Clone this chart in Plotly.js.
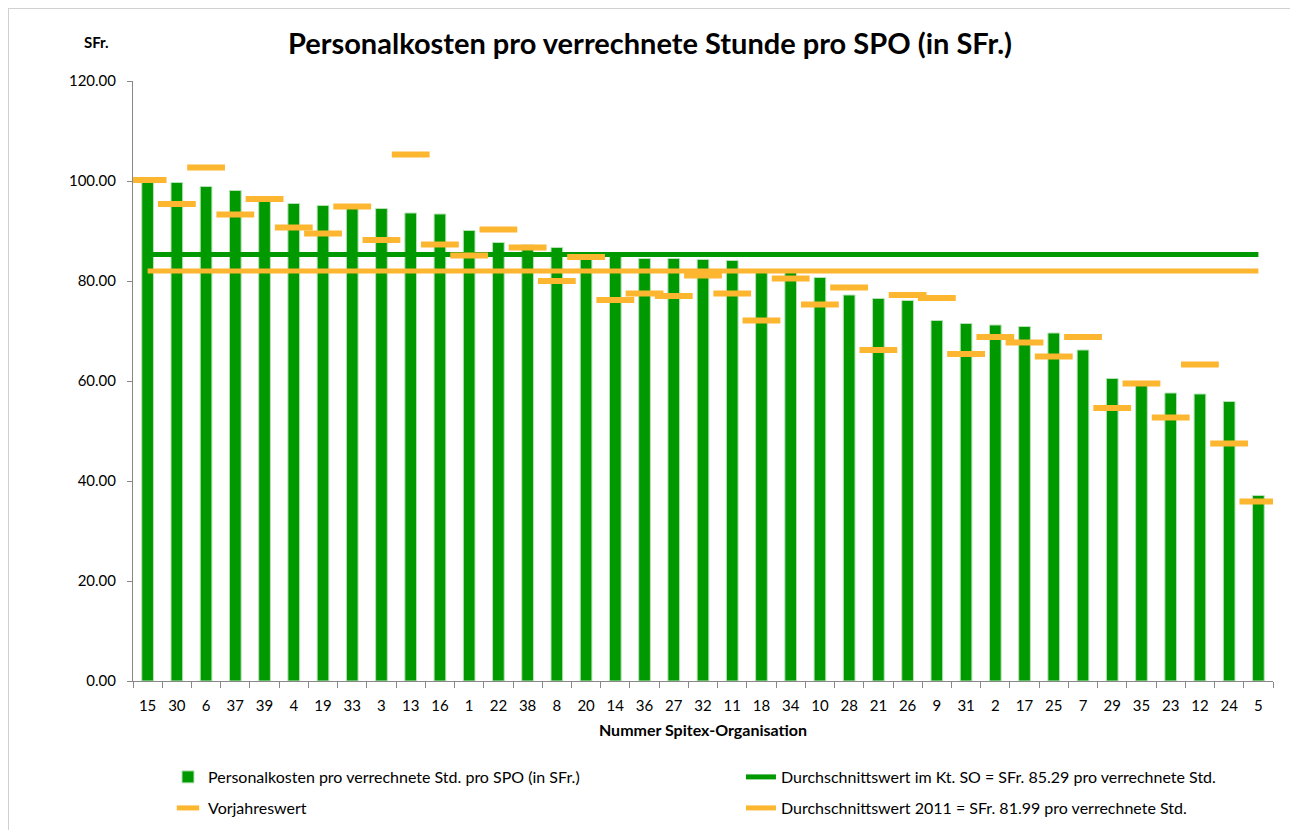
<!DOCTYPE html>
<html>
<head>
<meta charset="utf-8">
<script src="https://cdn.plot.ly/plotly-3.0.1.min.js"></script>
<style>
  html, body { margin: 0; padding: 0; background: #ffffff; }
  #frame { position: absolute; left: 8px; top: 8px; width: 1282px; height: 822px;
           border-top: 1px solid #d0d0d0; border-left: 1px solid #d0d0d0; pointer-events: none; }
  #chart { width: 1290px; height: 830px; }
</style>
</head>
<body>
<div id="chart"></div>
<div id="frame"></div>
<script>
// Category labels (Nummer Spitex-Organisation)
var categories = ['15','30','6','37','39','4','19','33','3','13','16','1','22','38','8','20','14','36','27','32',
                  '11','18','34','10','28','21','26','9','31','2','17','25','7','29','35','23','12','24','5'];

// Personalkosten pro verrechnete Std. pro SPO (in SFr.)
var costValues = [99.8, 99.7, 98.9, 98.1, 96.6, 95.5, 95.1, 94.7, 94.5, 93.6,
                  93.4, 90.1, 87.7, 87.2, 86.7, 85.0, 85.0, 84.5, 84.5, 84.3,
                  84.1, 81.9, 81.7, 80.7, 77.2, 76.5, 76.1, 72.1, 71.5, 71.2,
                  70.9, 69.6, 66.2, 60.5, 59.3, 57.6, 57.4, 55.9, 37.1];

// Vorjahreswert
var prevYearValues = [100.2, 95.4, 102.7, 93.3, 96.4, 90.7, 89.5, 94.9, 88.2, 105.3,
                      87.3, 85.1, 90.3, 86.7, 80.0, 84.8, 76.2, 77.5, 77.0, 81.1,
                      77.5, 72.1, 80.5, 75.3, 78.7, 66.2, 77.2, 76.6, 65.4, 68.8,
                      67.7, 64.9, 68.8, 54.6, 59.5, 52.7, 63.3, 47.5, 35.9];

// Average values
var avgKantonSO = 85.29;
var avg2011 = 81.99;

var yTickValues = [0, 20, 40, 60, 80, 100, 120];

var GREEN = '#009900';
var ORANGE = '#FDB62F';
var FONT = 'Lato, "Open Sans", sans-serif';

var firstLast = [categories[0], categories[categories.length - 1]];

var traces = [
  {
    type: 'bar',
    name: 'Personalkosten pro verrechnete Std. pro SPO (in SFr.)',
    x: categories,
    y: costValues,
    marker: { color: GREEN, line: { color: '#b8e2b8', width: 1 } },
    legend: 'legend',
    hoverinfo: 'x+y'
  },
  {
    type: 'scatter',
    mode: 'lines',
    name: 'Durchschnittswert im Kt. SO = SFr. 85.29 pro verrechnete Std.',
    x: firstLast,
    y: [avgKantonSO, avgKantonSO],
    line: { color: GREEN, width: 5 },
    legend: 'legend2'
  },
  {
    type: 'scatter',
    mode: 'lines',
    name: 'Durchschnittswert 2011 = SFr. 81.99 pro verrechnete Std.',
    x: firstLast,
    y: [avg2011, avg2011],
    line: { color: ORANGE, width: 5 },
    legend: 'legend4'
  },
  {
    type: 'scatter',
    mode: 'markers',
    name: 'Vorjahreswert',
    x: categories,
    y: prevYearValues,
    marker: { symbol: 'line-ew', size: 27, color: ORANGE, line: { color: ORANGE, width: 6 } },
    legend: 'legend3'
  }
];

function legendAt(x, y) {
  return {
    x: x, y: y, xanchor: 'left', yanchor: 'middle',
    orientation: 'h',
    font: { family: FONT, size: 16, color: '#000000' },
    bgcolor: 'rgba(0,0,0,0)', borderwidth: 0
  };
}

var layout = {
  width: 1290,
  height: 830,
  margin: { l: 133, r: 17, t: 81, b: 149, autoexpand: false },
  paper_bgcolor: '#ffffff',
  plot_bgcolor: '#ffffff',
  font: { family: FONT, size: 14, color: '#000000' },
  title: {
    text: '<b>Personalkosten pro verrechnete Stunde pro SPO (in SFr.)</b>',
    font: { family: FONT, size: 29, color: '#000000' },
    x: 650 / 1290, xanchor: 'center', xref: 'container',
    y: 1 - 44 / 830, yanchor: 'middle', yref: 'container'
  },
  bargap: 0.6,
  showlegend: true,
  xaxis: {
    type: 'category',
    range: [-0.5, categories.length - 0.5],
    autorange: false,
    automargin: false,
    tickangle: 0,
    showline: true, linecolor: '#888888', linewidth: 1,
    ticks: 'outside', tickson: 'boundaries', ticklen: 6, tickcolor: '#888888',
    ticklabelstandoff: 11,
    showgrid: false, zeroline: false,
    tickfont: { family: FONT, size: 15, color: '#000000' },
    title: { text: '<b>Nummer Spitex-Organisation</b>', font: { family: FONT, size: 16, color: '#000000' }, standoff: 11 }
  },
  yaxis: {
    range: [0, 120],
    autorange: false,
    automargin: false,
    tickvals: yTickValues,
    tickformat: '.2f',
    showline: true, linecolor: '#888888', linewidth: 1,
    ticks: 'outside', ticklen: 5, tickcolor: '#888888',
    ticklabelstandoff: 8,
    showgrid: false, zeroline: false,
    tickfont: { family: FONT, size: 15, color: '#000000' }
  },
  legend: legendAt(0.0307, -0.16),
  legend2: legendAt(0.5333, -0.16),
  legend3: legendAt(0.0307, -0.2117),
  legend4: legendAt(0.5333, -0.2117),
  annotations: [
    {
      text: '<b>SFr.</b>', xref: 'paper', yref: 'paper',
      x: (96 - 133) / 1140, y: (681 - 42) / 600,
      xanchor: 'center', yanchor: 'middle', showarrow: false,
      font: { family: FONT, size: 15, color: '#000000' }
    }
  ]
};

Plotly.newPlot('chart', traces, layout, { displayModeBar: false, staticPlot: true });
</script>
</body>
</html>
